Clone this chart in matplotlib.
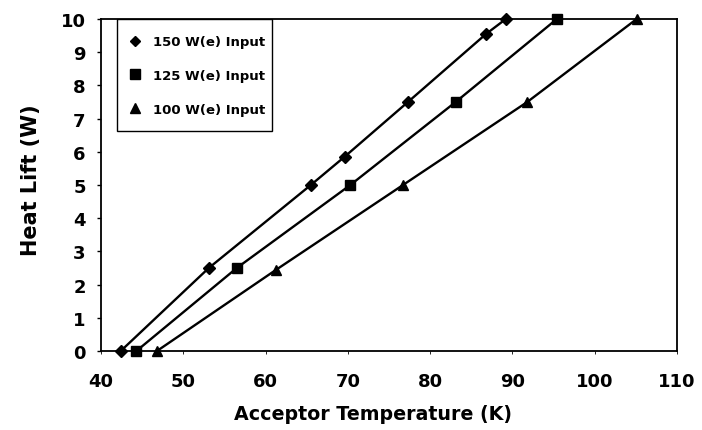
import matplotlib
matplotlib.use("Agg")
import matplotlib.pyplot as plt
from matplotlib.lines import Line2D
from matplotlib.patches import Rectangle

plt.rcParams['font.family'] = ['DejaVu Sans']
plt.rcParams['font.weight'] = 'bold'

# Data
t150 = [42.4, 53.1, 65.5, 69.6, 77.3, 86.8, 89.2]
q150 = [0.0, 2.5, 5.0, 5.85, 7.5, 9.55, 10.0]

t125 = [44.3, 56.5, 70.3, 83.1, 95.4]
q125 = [0.0, 2.5, 5.0, 7.5, 10.0]

t100 = [46.8, 61.3, 76.7, 91.8, 105.1]
q100 = [0.0, 2.45, 5.0, 7.5, 10.0]

labels = ["150 W(e) Input", "125 W(e) Input", "100 W(e) Input"]
xticks = [40, 50, 60, 70, 80, 90, 100, 110]
yticks = list(range(0, 11))

W, H = 702, 431
L, R, T, B = 101, 677, 20, 352
fig = plt.figure(figsize=(W/100, H/100), dpi=100)
ax = fig.add_axes([L/W, 1-B/H, (R-L)/W, (B-T)/H])
aw, ah = R-L, B-T

ax.plot(t150, q150, color='black', lw=1.7, marker='D', ms=6, clip_on=False, zorder=3)
ax.plot(t125, q125, color='black', lw=1.7, marker='s', ms=7.5, clip_on=False, zorder=3)
ax.plot(t100, q100, color='black', lw=1.7, marker='^', ms=7, clip_on=False, zorder=3)

ax.set_xlim(40, 110)
ax.set_ylim(0, 10)
ax.set_xticks(xticks)
ax.set_yticks(yticks)
ax.tick_params(axis='y', direction='out', length=3, width=1, pad=8, labelsize=13)
ax.tick_params(axis='x', direction='out', length=2, width=0.6, pad=13, labelsize=13)
for s in ax.spines.values():
    s.set_linewidth(1.3)

ax.set_xlabel("Acceptor Temperature (K)", fontsize=13.7, fontweight='bold')
ax.xaxis.set_label_coords((373-L)/aw, -(405-B)/ah)
ax.set_ylabel("Heat Lift (W)", fontsize=15, fontweight='bold')
ax.yaxis.set_label_coords(-(L-41)/aw, (B-180)/ah)

handles = [
    Line2D([], [], color='black', marker='D', ms=5.5, ls='none'),
    Line2D([], [], color='black', marker='s', ms=7, ls='none'),
    Line2D([], [], color='black', marker='^', ms=6.5, ls='none'),
]
leg = ax.legend(handles, labels, loc='upper left',
                bbox_to_anchor=((117-L)/aw, 1.0 - 5/ah),
                frameon=False,
                prop={'size': 9.5, 'weight': 'bold'},
                handlelength=1.0, handletextpad=0.86, labelspacing=1.56,
                borderpad=0.86, borderaxespad=0.0)
ax.add_patch(Rectangle(((117-L)/aw, (B-132)/ah), (272-117)/aw, (132-T)/ah,
                       transform=ax.transAxes, fill=False, edgecolor='black',
                       lw=1.0, zorder=2))

fig.savefig("out.png", dpi=100)
